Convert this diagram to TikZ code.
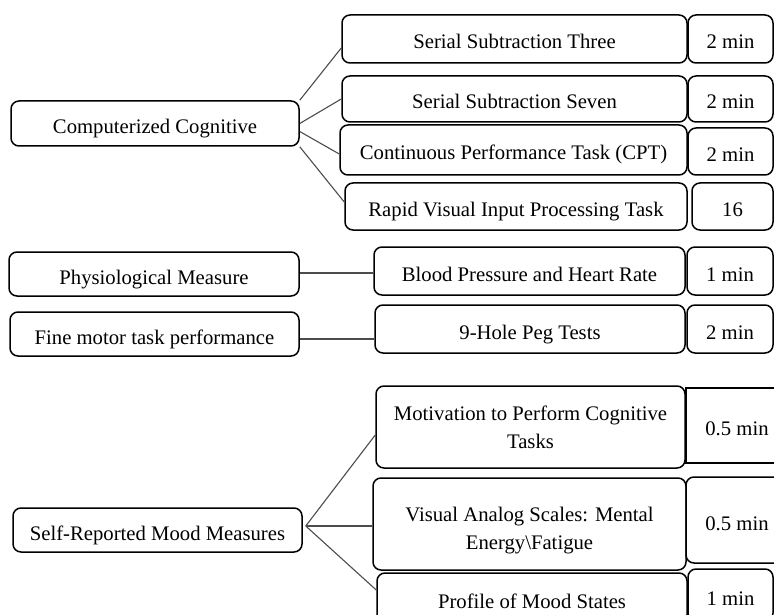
\documentclass[tikz,border=0pt]{standalone}
\usepackage{fontspec}
\setmainfont{Liberation Serif}
\usetikzlibrary{positioning}

\tikzset{
    box/.style={draw, line width=1.5pt, rounded corners=8pt, inner sep=0pt, align=center,
                text height=20pt, text depth=0pt},
    flatbox/.style={box, sharp corners},
    twoline/.style={text height=, text depth=},
    link/.style={draw=black!70, line width=1.1pt}
}

\begin{document}
\begin{tikzpicture}[x=1pt, y=-1pt, font=\fontsize{20.7}{28}\selectfont]
            \clip (0, 0) rectangle (774, 615);
            % left column
            \node[box, minimum width=288pt, minimum height=45pt] (cog) at (155, 123.5) {Computerized Cognitive};
            \node[box, minimum width=290pt, minimum height=44pt] (phys) at (154, 274) {Physiological Measure};
            \node[box, minimum width=289pt, minimum height=44pt] (fine) at (154.5, 334) {Fine motor task performance};
            \node[box, minimum width=289pt, minimum height=44pt] (mood) at (157.5, 530) {Self-Reported Mood Measures};
            % tasks
            \node[box, minimum width=345pt, minimum height=48pt] (sub3) at (514.5, 39) {Serial Subtraction Three};
            \node[box, minimum width=345pt, minimum height=46pt] (sub7) at (514.5, 99) {Serial Subtraction Seven};
            \node[box, minimum width=347pt, minimum height=50pt] (cpt) at (513.5, 150) {Continuous Performance Task (CPT)};
            \node[box, minimum width=342pt, minimum height=47pt] (rvip) at (516, 206.5) {Rapid Visual Input Processing Task};
            \node[box, minimum width=311pt, minimum height=48pt] (bp) at (529.5, 271) {Blood Pressure and Heart Rate};
            \node[box, minimum width=310pt, minimum height=48pt] (peg) at (530, 329) {9-Hole Peg Tests};
            \node[box, twoline, minimum width=309pt, minimum height=82pt] (motiv) at (530.5, 427) {Motivation to Perform Cognitive\\Tasks};
            \node[box, twoline, minimum width=313pt, minimum height=92pt] (vas) at (529.5, 524) {\rule{0pt}{28pt}Visual Analog Scales: Mental\\Energy\textbackslash Fatigue};
            \node[box, minimum width=310pt, minimum height=50pt] (poms) at (532, 598) {Profile of Mood States};
            % times
            \node[box, minimum width=85pt, minimum height=48pt] (t3) at (730.5, 39) {2 min};
            \node[box, minimum width=85pt, minimum height=46pt] (t7) at (730.5, 99) {2 min};
            \node[box, minimum width=85pt, minimum height=47pt] (tcpt) at (730.5, 151.5) {2 min};
            \node[box, minimum width=81pt, minimum height=47pt] (trvip) at (732.5, 206.5) {16};
            \node[box, minimum width=86pt, minimum height=48pt] (tbp) at (730, 271) {1 min};
            \node[box, minimum width=86pt, minimum height=48pt] (tpeg) at (730, 329) {2 min};
            \node[flatbox, minimum width=102pt, minimum height=75pt] (tmotiv) at (737, 425.5) {0.5 min};
            \node[box, minimum width=102pt, minimum height=86pt] (tvas) at (737, 520) {0.5 min};
            \node[box, minimum width=85pt, minimum height=52pt] (tpoms) at (730.5, 595) {1 min};
            % connectors
            \draw[link] (cog.north east) -- ([yshift=-9pt]sub3.west);
            \draw[link] (cog.east) -- (sub7.west);
            \draw[link] ([yshift=-8pt]cog.east) -- ([yshift=-4pt]cpt.west);
            \draw[link] (cog.south east) -- ([yshift=4.5pt]rvip.west);
            \draw[link] ([yshift=1pt]phys.east) -- ([yshift=1pt]phys.east -| bp.west);
            \draw[link] ([yshift=-5pt]fine.east) -- ([yshift=-5pt]fine.east -| peg.west);
            \draw[link] ([xshift=3pt, yshift=4pt]mood.east) -- ([yshift=-8pt]motiv.west);
            \draw[link] ([xshift=3pt, yshift=4pt]mood.east) -- ([yshift=-2pt]vas.west);
            \draw[link] ([xshift=3pt, yshift=4pt]mood.east) -- ([yshift=8pt]poms.west);
\end{tikzpicture}
\end{document}
